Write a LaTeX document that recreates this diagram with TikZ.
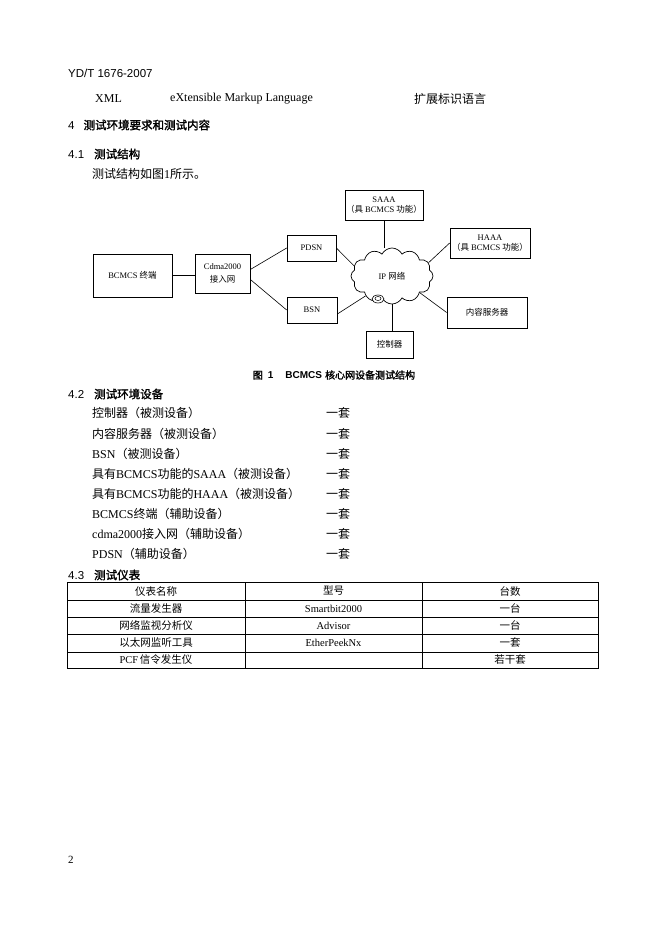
\documentclass[tikz,border=0pt]{standalone}
\usepackage{fontspec}
\setmainfont{Liberation Serif}
\newfontfamily\cjk[AutoFakeBold=1.6]{Noto Sans CJK SC}
\newfontfamily\hei{Liberation Sans}
\usetikzlibrary{shapes.symbols}
\newcommand\zh[1]{{\cjk #1}}
\newcommand\fs[1]{\fontsize{#1}{#1}\selectfont}
\begin{document}
\begin{tikzpicture}[x=1pt,y=-1pt,
  txt/.style={anchor=west, inner sep=0pt, font=\fs{12}},
  head/.style={anchor=west, inner sep=0pt, font=\fs{11.5}\hei},
  box/.style={draw, line width=0.7pt, inner sep=0pt, font=\fs{8.5}, align=center},
  conn/.style={line width=0.6pt},
  cell/.style={inner sep=0pt, font=\fs{10.5}}
]
\useasboundingbox[fill=white] (0,0) rectangle (658,934);

% header lines
\node[head] (docid) at (68,73) {YD/T 1676-2007};
\node[txt] (xml) at (95,99) {XML};
\node[txt] (xmlen) at (170,99) {eXtensible Markup Language};
\node[txt] (xmlzh) at (414,99) {\zh{扩展标识语言}};
\node[head] (s4) at (68,125) {4\hspace{9pt}{\bfseries\zh{测试环境要求和测试内容}}};
\node[head] (s41) at (68,154) {4.1\hspace{10pt}{\bfseries\zh{测试结构}}};
\node[txt] (p41) at (92,174) {\zh{测试结构如图}1\zh{所示。}};

% diagram
\node[box, minimum width=78pt, minimum height=30pt] (saaa) at (384,205) {SAAA\\[1pt]\zh{（具 }BCMCS\zh{ 功能）}};
\node[box, minimum width=80pt, minimum height=30pt] (haaa) at (490,243) {HAAA\\[1pt]\zh{（具 }BCMCS\zh{ 功能）}};
\node[box, minimum width=79pt, minimum height=43pt] (term) at (132.5,275.5) {BCMCS \zh{终端}};
\node[box, minimum width=55pt, minimum height=39pt] (cdma) at (222.5,273.5) {Cdma2000\\[5pt]\zh{接入网}};
\node[box, minimum width=49pt, minimum height=26pt] (pdsn) at (311.5,248) {PDSN};
\node[box, minimum width=50pt, minimum height=26pt] (bsn) at (312,310) {BSN};
\node[box, minimum width=80pt, minimum height=31pt] (server) at (487,312.5) {\zh{内容服务器}};
\node[box, minimum width=47pt, minimum height=27pt] (ctrl) at (389.5,344.5) {\zh{控制器}};
\node[cloud, draw, line width=0.7pt, cloud puffs=12, cloud puff arc=125, aspect=1.5,
      minimum width=82pt, minimum height=56pt, inner sep=0pt, font=\fs{8.5}] (ip) at (392,276) {IP \zh{网络}};
\filldraw[fill=white, line width=0.6pt] (378,299) ellipse (6pt and 4pt);
\draw[line width=0.5pt] (378,298.5) ellipse (3pt and 2pt);

\draw[conn] (term.east) -- (term.east -| cdma.west);
\draw[conn] ([yshift=4pt]cdma.east) -- (pdsn.west);
\draw[conn] ([yshift=-6pt]cdma.east) -- (bsn.west);
\draw[conn] (pdsn.east) -- (ip.165);
\draw[conn] ([yshift=-4pt]bsn.east) -- (ip.217);
\draw[conn] (saaa.south) -- (saaa.south |- ip.north);
\draw[conn] (haaa.west) -- (ip.20);
\draw[conn] (server.west) -- (ip.-31);
\draw[conn] ([xshift=3pt]ctrl.north) -- ([xshift=3pt]ctrl.north |- ip.south);

\node[inner sep=0pt, font=\fs{10}\hei\bfseries] (cap) at (334,375) {\zh{图}\hspace{5pt}1\hspace{12pt}BCMCS\hspace{3pt}\zh{核心网设备测试结构}};

% 4.2
\node[head] (s42) at (68,394) {4.2\hspace{10pt}{\bfseries\zh{测试环境设备}}};
\node[txt] (i1) at (92,413) {\zh{控制器（被测设备）}};
\node[txt] (i2) at (92,434) {\zh{内容服务器（被测设备）}};
\node[txt] (i3) at (92,454) {BSN\zh{（被测设备）}};
\node[txt] (i4) at (92,474) {\zh{具有}BCMCS\zh{功能的}SAAA\zh{（被测设备）}};
\node[txt] (i5) at (92,494) {\zh{具有}BCMCS\zh{功能的}HAAA\zh{（被测设备）}};
\node[txt] (i6) at (92,514) {BCMCS\zh{终端（辅助设备）}};
\node[txt] (i7) at (92,534) {cdma2000\zh{接入网（辅助设备）}};
\node[txt] (i8) at (92,554) {PDSN\zh{（辅助设备）}};
\foreach \y/\n in {413/1,434/2,454/3,474/4,494/5,514/6,534/7,554/8}
  \node[txt] (q\n) at (326,\y) {\zh{一套}};

% 4.3
\node[head] (s43) at (68,575) {4.3\hspace{10pt}{\bfseries\zh{测试仪表}}};
\draw[line width=0.9pt] (67,582) rectangle (598,668);
\foreach \y in {600,617,634,652} \draw[line width=0.5pt] (67,\y) -- (598,\y);
\foreach \x in {245,422} \draw[line width=0.5pt] (\x,582) -- (\x,668);
\node[cell] (h1) at (156,591) {\zh{仪表名称}};
\node[cell] (h2) at (333.5,591) {\zh{型号}};
\node[cell] (h3) at (510,591) {\zh{台数}};
\node[cell] (a1) at (156,608.5) {\zh{流量发生器}};
\node[cell] (a2) at (333.5,608.5) {Smartbit2000};
\node[cell] (a3) at (510,608.5) {\zh{一台}};
\node[cell] (b1) at (156,625.5) {\zh{网络监视分析仪}};
\node[cell] (b2) at (333.5,625.5) {Advisor};
\node[cell] (b3) at (510,625.5) {\zh{一台}};
\node[cell] (c1) at (156,643) {\zh{以太网监听工具}};
\node[cell] (c2) at (333.5,643) {EtherPeekNx};
\node[cell] (c3) at (510,643) {\zh{一套}};
\node[cell] (d1) at (156,660) {PCF\,\zh{信令发生仪}};
\node[cell] (d3) at (510,660) {\zh{若干套}};

\node[txt, font=\fs{11}] (pg) at (68,860) {2};
\end{tikzpicture}
\end{document}
